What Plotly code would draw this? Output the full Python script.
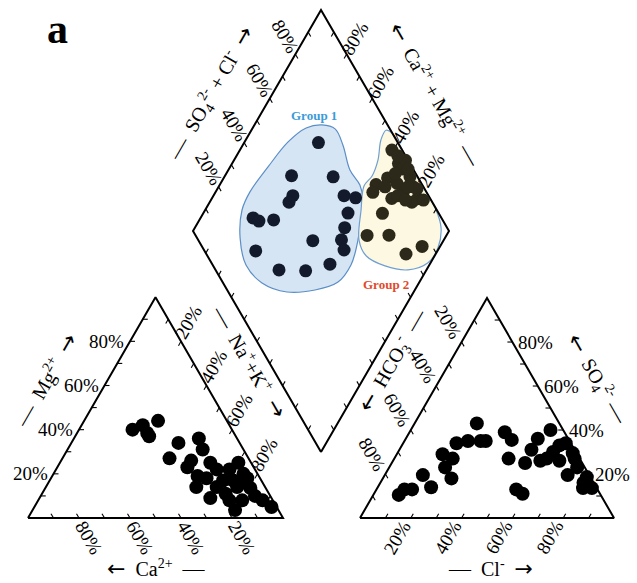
import plotly.graph_objects as go

W, H = 637, 583
FONT = "Liberation Serif"

# ---------------- data (percent) ----------------
# cation triangle
cat_ca = [39, 34, 27, 34, 34, 24, 31, 15, 16, 23, 26, 16, 15, 5, 21, 15, 5.5, 27, 24, 17,
          11, 6, 17, 12, 17, 4, 2, 11, 8, 19, 10, 5, 24, 6]
cat_mg = [40, 42, 44, 37, 38.5, 34, 27, 36, 31, 26, 23, 25, 22, 25, 18, 17, 20, 14, 9, 11,
          14, 13.6, 8, 8, 3.6, 8, 5, 17, 16, 14, 22, 18, 19, 10]
# anion triangle
an_cl = [10, 11, 14, 15, 21, 18, 22, 27, 23, 21, 25, 24.5, 30, 32, 37.5, 42, 45, 55, 58.5,
         52.5, 52, 52, 55, 58, 61, 64, 65.5, 69, 72, 74, 81, 84.5, 80, 60, 71, 62, 80]
an_so4 = [10.5, 13, 13, 19.5, 14, 29, 23, 18, 27, 34, 35, 43, 35, 35, 39, 35.5, 27, 13, 11,
          25, 31, 36, 40, 26, 30, 34, 26, 29.5, 19.5, 23, 13.6, 13.6, 18.6, 27, 27, 33, 16]
# diamond, group 1
g1_camg = [71, 74, 57.5, 69, 69, 49, 44, 43.5, 79.5, 76.5, 71, 41.5, 40, 36.7, 51, 71, 57.6, 47, 39]
g1_so4cl = [69, 51, 67, 47, 44, 67, 71, 64.6, 26.4, 28, 34, 60, 56, 54.7, 44.6, 20, 24.8, 35, 46]
# diamond, group 2
g2_camg = [40.6, 35, 32, 27.5, 39, 31, 24, 38.5, 26.5, 19.6, 29.7, 21, 30, 31, 22.5, 11.6, 7, 33,
           22, 36, 37, 30, 26, 34, 28, 24, 35, 17]
g2_so4cl = [96, 95.5, 96, 97, 82, 90.5, 96, 79, 90.6, 95, 85, 92, 78, 67, 75.6, 78, 86, 99,
            97, 88, 97, 98, 94, 92, 88, 90, 85, 97]
# group outlines (diamond percent)
g1_out_camg = [73.6, 67.6, 60.9, 52.5, 45.2, 40.6, 36.9, 32.8, 30.6, 31.8, 39, 49.5, 61.3, 71.6,
               80, 85.6, 86.6, 85.2, 83, 79.1]
g1_out_so4cl = [74.4, 78.6, 78, 75.1, 75.6, 73.4, 68.1, 60.9, 54, 45.1, 34.3, 22.9, 15.2, 13,
                16.8, 23.9, 31.1, 43.8, 57.3, 67.5]
g2_out_camg = [47.4, 44.4, 27, 10, 3.8, 0.5, 1, 7.2, 17.1, 26.8, 33.1, 39.1, 43.4, 42.5, 43.8, 47.2]
g2_out_so4cl = [98.2, 99.9, 99.7, 99.7, 97.6, 91.9, 84.6, 75.2, 67.1, 62, 62.8, 70.4, 77, 82.4, 88.3, 94]

tick_vals = [20, 40, 60, 80]
tick_text = ["20%", "40%", "60%", "80%"]

# ---------------- geometry ----------------
L_BL = (28.0, 518.0); L_SIDE = 255.0
R_BL = (360.0, 518.0); R_SIDE = 254.0
D_B = (321.0, 452.0); D_U1 = (-128.0, -221.0); D_U2 = (128.0, -221.0)
S3 = 0.8660254


def cation_xy(ca, mg):
    m = mg / 100.0
    na = 1 - ca / 100.0 - m
    return L_BL[0] + (na + m / 2) * L_SIDE, L_BL[1] - m * L_SIDE * S3


def anion_xy(cl, so4):
    s = so4 / 100.0
    c = cl / 100.0
    return R_BL[0] + (c + s / 2) * R_SIDE, R_BL[1] - s * R_SIDE * S3


def diamond_xy(camg, so4cl):
    p = camg / 100.0
    q = so4cl / 100.0
    return D_B[0] + p * D_U1[0] + q * D_U2[0], D_B[1] + p * D_U1[1] + q * D_U2[1]


def unit(v):
    n = (v[0] ** 2 + v[1] ** 2) ** 0.5
    return v[0] / n, v[1] / n


fig = go.Figure()

# group blobs
for oc, os_, fc, lc in [(g1_out_camg, g1_out_so4cl, "#d5e5f4", "#5b8ec6"),
                        (g2_out_camg, g2_out_so4cl, "#fdf8e2", "#6f9fd2")]:
    pts = [diamond_xy(a, b) for a, b in zip(oc, os_)]
    pts.append(pts[0])
    fig.add_trace(go.Scatter(x=[p[0] for p in pts], y=[p[1] for p in pts], mode="lines",
                             fill="toself", fillcolor=fc,
                             line=dict(color=lc, width=1.2, shape="spline", smoothing=1.0),
                             hoverinfo="skip"))

# frames
frames = [
    [cation_xy(100, 0), cation_xy(0, 0), cation_xy(0, 100), cation_xy(100, 0)],
    [anion_xy(0, 0), anion_xy(100, 0), anion_xy(0, 100), anion_xy(0, 0)],
    [diamond_xy(0, 0), diamond_xy(100, 0), diamond_xy(100, 100), diamond_xy(0, 100), diamond_xy(0, 0)],
]
for fr in frames:
    fig.add_trace(go.Scatter(x=[p[0] for p in fr], y=[p[1] for p in fr], mode="lines",
                             line=dict(color="black", width=2), hoverinfo="skip"))

# ticks
TL = 5.0
tx, ty = [], []


def add_tick(pt, d):
    tx.extend([pt[0], pt[0] + d[0] * TL, None])
    ty.extend([pt[1], pt[1] + d[1] * TL, None])


u1n = unit(D_U1); u2n = unit(D_U2)
for v in range(10, 100, 10):
    add_tick(cation_xy(v, 0), (-0.5, -S3))
    add_tick(cation_xy(100 - v, v), (1, 0))
    add_tick(cation_xy(0, 100 - v), (-0.5, S3))
    add_tick(anion_xy(v, 0), (0.5, -S3))
    add_tick(anion_xy(100 - v, v), (-1, 0))
    add_tick(anion_xy(0, 100 - v), (0.5, S3))
    add_tick(diamond_xy(100, v), (-u1n[0], -u1n[1]))
    add_tick(diamond_xy(v, 100), (-u2n[0], -u2n[1]))
    add_tick(diamond_xy(v, 0), u2n)
    add_tick(diamond_xy(0, v), u1n)
fig.add_trace(go.Scatter(x=tx, y=ty, mode="lines", line=dict(color="black", width=1.1),
                         hoverinfo="skip"))

# points
cx, cy = zip(*[cation_xy(a, b) for a, b in zip(cat_ca, cat_mg)])
fig.add_trace(go.Scatter(x=cx, y=cy, mode="markers",
                         marker=dict(size=14, color="black", line=dict(width=0))))
ax_, ay_ = zip(*[anion_xy(a, b) for a, b in zip(an_cl, an_so4)])
fig.add_trace(go.Scatter(x=ax_, y=ay_, mode="markers",
                         marker=dict(size=14, color="black", line=dict(width=0))))
d1x, d1y = zip(*[diamond_xy(a, b) for a, b in zip(g1_camg, g1_so4cl)])
fig.add_trace(go.Scatter(x=d1x, y=d1y, mode="markers",
                         marker=dict(size=13, color="#121a2c", line=dict(width=0))))
d2x, d2y = zip(*[diamond_xy(a, b) for a, b in zip(g2_camg, g2_so4cl)])
fig.add_trace(go.Scatter(x=d2x, y=d2y, mode="markers",
                         marker=dict(size=13, color="#2c281a", line=dict(width=0))))

ann = []


def label(x, y, text, size=19, angle=0, xanchor="center", color="black"):
    ann.append(dict(x=x, y=y, text=text, showarrow=False, textangle=angle,
                    xanchor=xanchor, yanchor="middle",
                    font=dict(family=FONT, size=size, color=color)))


for v, t in zip(tick_vals, tick_text):
    x, y = cation_xy(100 - v, v); label(x - 4, y, t, xanchor="right")
    x, y = cation_xy(v, 0); label(x + 10, y + 19, t, angle=60)
    x, y = cation_xy(0, 100 - v); label(x + 7, y - 19, t, angle=-60)
    x, y = anion_xy(v, 0); label(x - 14, y + 19, t, angle=-60)
    x, y = anion_xy(100 - v, v); label(x + 4, y, t, xanchor="left")
    x, y = anion_xy(0, 100 - v); label(x - 13, y - 20, t, angle=60)
    x, y = diamond_xy(100, v); label(x - 10, y - 18, t, angle=60)
    x, y = diamond_xy(v, 100); label(x + 8, y - 16, t, angle=-60)

NB = "\u00a0"
RA = '<span style="font-family:DejaVu Sans;font-size:22px">→</span>'
LA = '<span style="font-family:DejaVu Sans;font-size:22px">←</span>'
DS = '<span style="font-size:22px">—</span>'
label(45, 380, DS + NB * 2 + "Mg<sup>2+</sup>" + NB * 2 + RA, size=20, angle=-60)
label(156, 568, LA + NB * 2 + "Ca<sup>2+</sup>" + NB * 2 + DS, size=20)
label(250, 361, DS + NB * 2 + "Na<sup>+</sup>+K<sup>+</sup>" + NB * 2 + RA, size=20, angle=60)
label(490, 568, DS + NB * 2 + "Cl<sup>-</sup>" + NB * 2 + RA, size=20)
label(597, 379, LA + NB * 2 + "SO<sub>4</sub><sup>2-</sup>" + NB + DS, size=20, angle=60)
label(393, 361, LA + NB * 2 + "HCO<sub>3</sub><sup>-</sup>" + NB * 2 + DS, size=20, angle=-60)
label(211, 94, DS + NB * 2 + "SO<sub>4</sub><sup>2-</sup> + Cl<sup>-</sup>" + NB * 2 + RA, size=20, angle=-60)
label(436, 94, LA + NB * 2 + "Ca<sup>2+</sup> + Mg<sup>2+</sup>" + NB * 2 + DS, size=20, angle=60)

label(57, 29, "<b>a</b>", size=42)
label(314, 115, "<b>Group 1</b>", size=13, color="#3b9bd8")
label(386, 284, "<b>Group 2</b>", size=13, color="#e2492b")

fig.update_layout(
    width=W, height=H, margin=dict(l=0, r=0, t=0, b=0),
    paper_bgcolor="white", plot_bgcolor="white", showlegend=False,
    xaxis=dict(range=[0, W], visible=False, fixedrange=True),
    yaxis=dict(range=[H, 0], visible=False, fixedrange=True),
    annotations=ann,
)
fig.write_html("out.html")
